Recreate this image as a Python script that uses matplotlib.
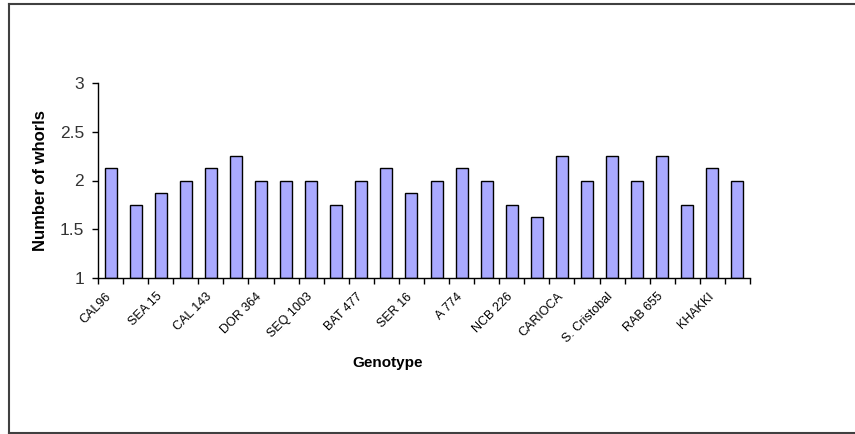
import matplotlib
matplotlib.use("Agg")
import matplotlib.pyplot as plt
import numpy as np
from matplotlib.lines import Line2D

plt.rcParams['font.family'] = ['Liberation Sans', 'DejaVu Sans']

tick_labels = ["CAL96", "SEA 15", "CAL 143", "DOR 364", "SEQ 1003", "BAT 477",
               "SER 16", "A 774", "NCB 226", "CARIOCA", "S. Cristobal", "RAB 655", "KHAKKI"]
values = [2.125, 1.75, 1.875, 2.0, 2.125, 2.25, 2.0, 2.0, 2.0, 1.75, 2.0, 2.125, 1.875,
          2.0, 2.125, 2.0, 1.75, 1.625, 2.25, 2.0, 2.25, 2.0, 2.25, 1.75, 2.125, 2.0]
y_ticks = [1, 1.5, 2, 2.5, 3]

fig = plt.figure(figsize=(8.55, 4.34), dpi=100)
ax = fig.add_axes([98/855, 1-278/434, (750-98)/855, (278-83)/434])

n = len(values)
x = np.arange(n)
ax.bar(x, np.array(values) - 1, bottom=1, width=0.48, color='#AAAAFF',
       edgecolor='black', linewidth=1.0)

ax.set_xlim(-0.5, n - 0.5)
ax.set_ylim(1, 3)
ax.set_yticks(y_ticks)
ax.set_yticklabels([f"{v:g}" for v in y_ticks], fontsize=12.5, color='#333333')

# category boundary ticks
ax.set_xticks(np.arange(-0.5, n + 0.5, 1.0))
ax.set_xticklabels([])
ax.tick_params(axis='x', length=4, width=1, direction='out', colors='black')
ax.tick_params(axis='y', length=4, width=1, direction='out', pad=6)

trans = ax.get_xaxis_transform()
for i, lab in enumerate(tick_labels):
    ax.text(2 * i - 0.2, -0.065, lab, transform=trans, rotation=45,
            ha='right', va='top', rotation_mode='anchor', fontsize=9)

for s in ['top', 'right']:
    ax.spines[s].set_visible(False)
for s in ['left', 'bottom']:
    ax.spines[s].set_color('black')
    ax.spines[s].set_linewidth(1.0)

ax.set_ylabel("Number of whorls", fontsize=12, fontweight='bold')
ax.yaxis.set_label_coords((48-98)/652, (278-181)/195)
fig.text(388/855, 1-363/434, "Genotype", fontsize=11, fontweight='bold',
         ha='center', va='center')

# outer frame (left, top, bottom)
col = '#404040'
fig.add_artist(Line2D([8.5/855, 8.5/855], [1-3.5/434, 1-432.5/434], transform=fig.transFigure, color=col, lw=1.5))
fig.add_artist(Line2D([8.5/855, 1.0], [1-3.5/434, 1-3.5/434], transform=fig.transFigure, color=col, lw=1.5))
fig.add_artist(Line2D([8.5/855, 1.0], [1-432.5/434, 1-432.5/434], transform=fig.transFigure, color=col, lw=1.5))

fig.savefig("out.png", dpi=100)
